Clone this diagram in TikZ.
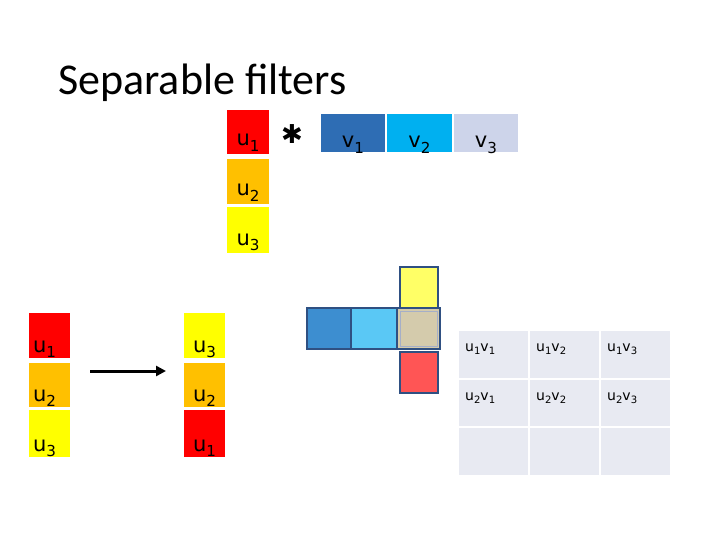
\documentclass[tikz,border=0pt]{standalone}
\usepackage{fontspec}
\usepackage{graphicx}
\setmainfont{DejaVu Sans}
\newfontfamily\titlefont{Carlito}
\newfontfamily\astfont{DejaVu Sans}
\usetikzlibrary{arrows.meta}
\definecolor{ured}{RGB}{255,0,0}
\definecolor{uorange}{RGB}{255,192,0}
\definecolor{uyellow}{RGB}{255,255,0}
\definecolor{vone}{RGB}{46,109,180}
\definecolor{vtwo}{RGB}{0,176,240}
\definecolor{vthree}{RGB}{205,212,234}
\definecolor{sblue}{RGB}{61,142,208}
\definecolor{slblue}{RGB}{90,200,245}
\definecolor{stan}{RGB}{212,203,172}
\definecolor{syellow}{RGB}{255,255,102}
\definecolor{sred}{RGB}{255,85,85}
\definecolor{sborder}{RGB}{47,80,130}
\definecolor{cellc}{RGB}{232,234,242}
\newcommand{\lowsub}[1]{\raisebox{-0.25em}{\scalebox{0.72}{#1}}}
\tikzset{
  cbox/.style={inner sep=0pt, outer sep=0pt, anchor=north west, draw=none},
  bigbox/.style={cbox, minimum width=42pt},
  lbl/.style={inner sep=0pt, anchor=base, font=\fontsize{21}{24}\selectfont},
  small/.style={cbox, draw=sborder, line width=2.5pt},
  cell/.style={cbox, fill=cellc, minimum width=69pt},
  celltxt/.style={inner sep=0pt, anchor=base west, font=\fontsize{14}{16}\selectfont},
}
\begin{document}
\begin{tikzpicture}[x=1pt,y=-1pt]
\useasboundingbox (0,0) rectangle (720,540);
% title
\node[anchor=base west, inner sep=0pt, font=\titlefont\fontsize{44}{50}\selectfont] (title) at (58,95) {Separable filters};
% top u column
\node[bigbox, fill=ured, minimum height=44pt] (tu1) at (227,110) {};
\node[bigbox, fill=uorange, minimum height=45pt] (tu2) at (227,159) {};
\node[bigbox, fill=uyellow, minimum height=46pt] (tu3) at (227,207) {};
\node[lbl] (tu1l) at ([yshift=8pt]tu1.south) {u\lowsub{1}};
\node[lbl] (tu2l) at ([yshift=8pt]tu2.south) {u\lowsub{2}};
\node[lbl] (tu3l) at ([yshift=8pt]tu3.south) {u\lowsub{3}};
% asterisk
\node[inner sep=0pt, font=\astfont\bfseries\fontsize{26}{30}\selectfont] (ast) at (292,134) {✱};
% v row
\node[cbox, fill=vone, minimum width=64pt, minimum height=38pt] (v1) at (321,114) {};
\node[cbox, fill=vtwo, minimum width=65pt, minimum height=38pt] (v2) at (387,114) {};
\node[cbox, fill=vthree, minimum width=64pt, minimum height=38pt] (v3) at (454,114) {};
\node[lbl] (v1l) at ([yshift=4pt]v1.south) {v\lowsub{1}};
\node[lbl] (v2l) at ([yshift=4pt]v2.south) {v\lowsub{2}};
\node[lbl] (v3l) at ([yshift=4pt]v3.south) {v\lowsub{3}};
% bottom-left columns
\node[bigbox, minimum width=41pt, fill=ured, minimum height=45pt] (lu1) at (29,313) {};
\node[bigbox, minimum width=41pt, fill=uorange, minimum height=44pt] (lu2) at (29,363) {};
\node[bigbox, minimum width=41pt, fill=uyellow, minimum height=47pt] (lu3) at (29,410) {};
\node[lbl] (lu1l) at ([xshift=-5pt,yshift=6pt]lu1.south) {u\lowsub{1}};
\node[lbl] (lu2l) at ([xshift=-5pt,yshift=6pt]lu2.south) {u\lowsub{2}};
\node[lbl] (lu3l) at ([xshift=-5pt,yshift=6pt]lu3.south) {u\lowsub{3}};
\node[bigbox, minimum width=41pt, fill=uyellow, minimum height=45pt] (ru3) at (184,313) {};
\node[bigbox, minimum width=41pt, fill=uorange, minimum height=44pt] (ru2) at (184,363) {};
\node[bigbox, minimum width=41pt, fill=ured, minimum height=47pt] (ru1) at (184,410) {};
\node[lbl] (ru3l) at ([yshift=6pt]ru3.south) {u\lowsub{3}};
\node[lbl] (ru2l) at ([yshift=6pt]ru2.south) {u\lowsub{2}};
\node[lbl] (ru1l) at ([yshift=6pt]ru1.south) {u\lowsub{1}};
\coordinate (arA) at (90,371);
\coordinate (arB) at (166,371);
\draw[line width=3pt, -{Triangle[length=10pt,width=10pt]}] (arA) -- (arB);
% small cross of squares
\node[small, fill=syellow, minimum width=38pt, minimum height=41pt] (sy) at (400,267) {};
\node[small, fill=sred, minimum width=38pt, minimum height=41pt] (sr) at (400,352) {};
\node[small, fill=sblue, minimum width=44pt, minimum height=41pt] (sb) at (307,308) {};
\node[small, fill=slblue, minimum width=46pt, minimum height=41pt] (slb) at (351,308) {};
\node[small, fill=stan, minimum width=43pt, minimum height=41pt] (st) at (397,308) {};
\node[inner sep=0pt, draw={rgb,255:red,165;green,175;blue,200}, line width=1pt, minimum width=37pt, minimum height=35pt] (stin) at (st.center) {};
% grid
\node[cell, minimum height=47pt] (c11) at (459,331) {};
\node[cell, minimum height=47pt] (c12) at (530,331) {};
\node[cell, minimum height=47pt] (c13) at (601,331) {};
\node[cell, minimum height=46pt] (c21) at (459,380) {};
\node[cell, minimum height=46pt] (c22) at (530,380) {};
\node[cell, minimum height=46pt] (c23) at (601,380) {};
\node[cell, minimum height=47pt] (c31) at (459,428) {};
\node[cell, minimum height=47pt] (c32) at (530,428) {};
\node[cell, minimum height=47pt] (c33) at (601,428) {};
\node[celltxt] (t11) at ([xshift=6pt,yshift=-20pt]c11.north west) {u\lowsub{1}v\lowsub{1}};
\node[celltxt] (t12) at ([xshift=6pt,yshift=-20pt]c12.north west) {u\lowsub{1}v\lowsub{2}};
\node[celltxt] (t13) at ([xshift=6pt,yshift=-20pt]c13.north west) {u\lowsub{1}v\lowsub{3}};
\node[celltxt] (t21) at ([xshift=6pt,yshift=-20pt]c21.north west) {u\lowsub{2}v\lowsub{1}};
\node[celltxt] (t22) at ([xshift=6pt,yshift=-20pt]c22.north west) {u\lowsub{2}v\lowsub{2}};
\node[celltxt] (t23) at ([xshift=6pt,yshift=-20pt]c23.north west) {u\lowsub{2}v\lowsub{3}};
\end{tikzpicture}
\end{document}
